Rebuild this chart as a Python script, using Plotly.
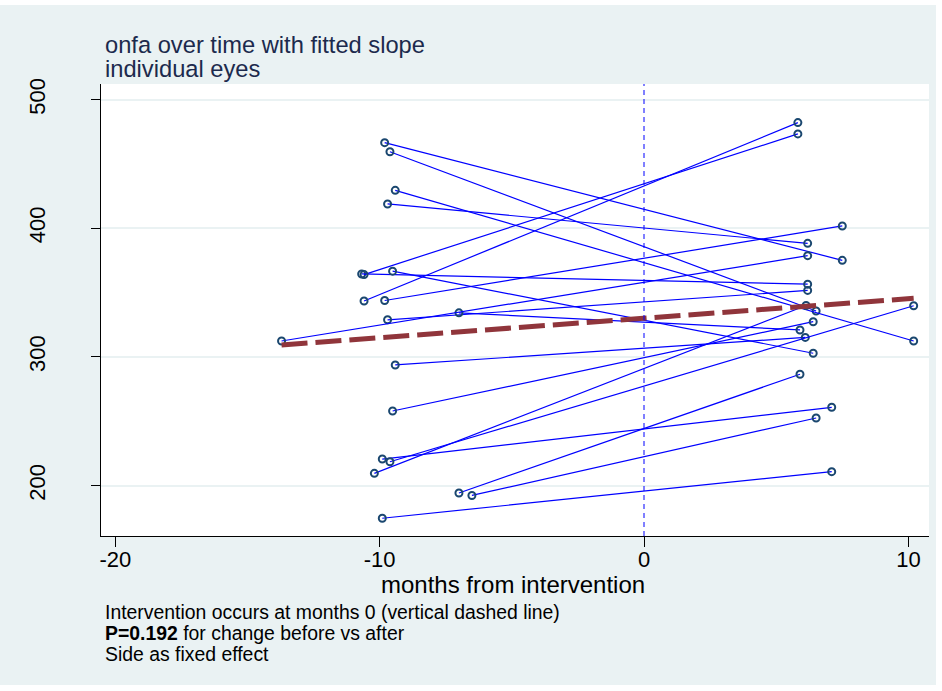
import plotly.graph_objects as go

# Each eye: months from intervention and onfa, before and after
months_before = [-9.81, -9.61, -9.41, -9.70, -10.68, -10.59, -9.51, -10.59, -9.81, -9.70,
                 -7.00, -13.71, -9.41, -9.51, -9.90, -9.61, -10.20, -7.00, -6.51, -9.90]
onfa_before = [466.5, 459.5, 429.5, 418.9, 364.5, 364.0, 366.7, 343.5, 343.9, 328.9,
               334.3, 312.4, 293.8, 258.0, 220.7, 218.6, 209.6, 194.3, 192.4, 174.7]
months_after = [7.50, 6.51, 10.20, 6.19, 6.19, 5.82, 6.40, 5.82, 7.50, 6.19,
                5.90, 6.19, 6.10, 6.40, 7.10, 10.20, 6.13, 5.90, 6.51, 7.10]
onfa_after = [375.1, 335.7, 312.4, 388.3, 356.6, 473.3, 302.9, 482.1, 401.8, 351.7,
              321.0, 378.7, 315.2, 327.4, 260.9, 339.8, 340.0, 286.6, 252.6, 210.9]

# Fitted slope over the observed time span
fit_months = [-13.71, 10.20]
fit_onfa = [309.3, 345.6]

x_ticks = [-20, -10, 0, 10]
y_ticks = [200, 300, 400, 500]
x_range = [-20.54, 10.78]
y_range = [160.9, 512.1]

BG = "#eaf2f3"
NAVY = "#1a476f"
FONT = "Arial, Liberation Sans, sans-serif"

# plot area in pixels
L, R, T, B = 101, 929, 84, 536
W, H = 942, 691


def px_x(px):
    return (px - L) / (R - L)


def px_y(py):
    return (B - py) / (B - T)


fig = go.Figure()

for xb, yb, xa, ya in zip(months_before, onfa_before, months_after, onfa_after):
    fig.add_trace(go.Scatter(
        x=[xb, xa], y=[yb, ya], mode="lines+markers",
        line=dict(color="#0000ff", width=1.2),
        marker=dict(symbol="circle-open", size=7, color=NAVY, line=dict(width=2, color=NAVY)),
        hoverinfo="skip", showlegend=False,
    ))

fig.add_trace(go.Scatter(
    x=fit_months, y=fit_onfa, mode="lines",
    line=dict(color="#90353b", width=5, dash="26px,8px"),
    hoverinfo="skip", showlegend=False,
))

shapes = [
    # graph region background
    dict(type="rect", xref="paper", yref="paper", layer="below",
         x0=px_x(0), x1=px_x(936), y0=px_y(685), y1=px_y(5),
         fillcolor=BG, line=dict(width=0)),
    # white plot region
    dict(type="rect", xref="paper", yref="paper", layer="below",
         x0=0, x1=1, y0=0, y1=1, fillcolor="#ffffff", line=dict(width=0)),
    # intervention marker at month 0
    dict(type="line", xref="x", yref="paper", x0=0, x1=0, y0=0, y1=1,
         line=dict(color="#0000ff", width=1, dash="5px,4px")),
]

annotations = [
    dict(text="onfa over time with fitted slope", x=px_x(103), y=px_y(45)),
    dict(text="individual eyes", x=px_x(103), y=px_y(69)),
]
for a in annotations:
    a.update(xref="paper", yref="paper", xanchor="left", yanchor="middle",
             showarrow=False, font=dict(family=FONT, size=23.7, color="#1c2a4d"))

notes = [
    ("Intervention occurs at months 0 (vertical dashed line)", 612),
    ("<b>P=0.192</b> for change before vs after", 633),
    ("Side as fixed effect", 654),
]
for txt, py in notes:
    annotations.append(dict(
        text=txt, x=px_x(103), y=px_y(py), xref="paper", yref="paper",
        xanchor="left", yanchor="middle", showarrow=False,
        font=dict(family=FONT, size=19.4, color="#000000"),
    ))

annotations.append(dict(
    text="months from intervention", x=px_x(513), y=px_y(584), xref="paper", yref="paper",
    xanchor="center", yanchor="middle", showarrow=False,
    font=dict(family=FONT, size=24, color="#000000"),
))

fig.update_layout(
    width=W, height=H,
    margin=dict(l=L, r=W - R, t=T, b=H - B, pad=0),
    paper_bgcolor="#ffffff", plot_bgcolor="#ffffff",
    font=dict(family=FONT, color="#000000"),
    shapes=shapes, annotations=annotations, showlegend=False,
)

fig.update_xaxes(
    range=x_range, tickvals=x_ticks, ticktext=[str(v) for v in x_ticks],
    showgrid=False, zeroline=False, showline=True, linecolor="#000000", linewidth=1,
    ticks="outside", ticklen=10, tickwidth=1, tickcolor="#000000",
    ticklabelstandoff=-6,
    tickfont=dict(family=FONT, size=22, color="#000000"),
)
fig.update_yaxes(
    range=y_range, tickvals=y_ticks, ticktext=[str(v) for v in y_ticks],
    showgrid=True, gridcolor=BG, gridwidth=1.5, zeroline=False,
    showline=True, linecolor="#000000", linewidth=1,
    ticks="outside", ticklen=9, tickwidth=1, tickcolor="#000000",
    tickangle=-90, ticklabelstandoff=37,
    tickfont=dict(family=FONT, size=22, color="#000000"),
)

fig.write_html("out.html")
